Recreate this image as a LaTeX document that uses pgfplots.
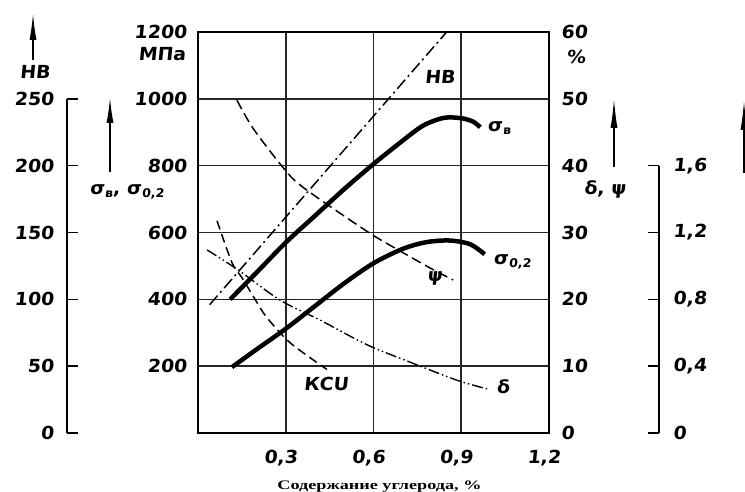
\documentclass[border=0pt]{standalone}
\usepackage{pgfplots}
\pgfplotsset{compat=1.18}
\usepackage{fontspec}
\setmainfont{DejaVu Sans}
\newfontfamily\hand[FakeSlant=0.1,FakeStretch=1.05]{DejaVu Sans Bold}
\newfontfamily\capfont[FakeStretch=1.4]{Liberation Serif Bold}
\usetikzlibrary{arrows.meta}
\newcommand{\sub}[1]{\kern0.5pt\raisebox{-3pt}{\fontsize{12}{13}\selectfont #1}}
\begin{document}
\begin{tikzpicture}[x=1pt,y=1pt]
\useasboundingbox (0,0) rectangle (745,492);
\pgfplotsset{
  base/.style={scale only axis, width=351pt, height=401pt, at={(198pt,59pt)},
    anchor=south west, xmin=0, xmax=1.2,
    font=\hand\fontsize{18}{20}\selectfont},
}
% main axis: MPa
\begin{axis}[base, ymin=0, ymax=1200,
  xtick={0.3,0.6,0.9,1.2}, xticklabels={{0,3},{0,6},{0,9},{1,2}},
  ytick={200,400,600,800,1000,1200}, yticklabels={200,400,600,800,1000,1200},
  ytick pos=left, xtick pos=bottom,
  grid=major, major grid style={line width=1.6pt, black!85},
  major tick length=0pt,
  axis line style={line width=2pt},
  xticklabel style={anchor=center, yshift=-25pt, xshift=-5pt, inner sep=0pt},
  yticklabel style={anchor=east, xshift=-11pt, inner sep=0pt},
  xlabel={\capfont\fontsize{13}{14}\selectfont Содержание углерода, \%},
  xlabel style={at={(axis description cs:0.5,0)}, anchor=center, yshift=-54pt, xshift=6pt},
]
\addplot[line width=4.5pt, smooth, tension=0.5] coordinates {
 (0.11,400) (0.2,480) (0.3,570) (0.4,650) (0.5,730) (0.6,805) (0.7,875)
 (0.77,920) (0.84,943) (0.9,942) (0.94,932) (0.965,915)};
\addplot[line width=4.5pt, smooth, tension=0.5] coordinates {
 (0.116,197) (0.2,250) (0.3,312) (0.4,380) (0.5,448) (0.6,508) (0.7,551)
 (0.78,571) (0.86,576) (0.93,565) (0.98,535)};
\node at (axis cs:0.827,1065) {HB};
\node at (axis cs:1.03,913) {σ\sub{в}};
\node at (axis cs:1.075,512) {σ\sub{0,2}};
\node at (axis cs:0.81,462) {ψ};
\node at (axis cs:1.043,138) {δ};
\node at (axis cs:0.438,147) {КСU};
\end{axis}
% percent axis: delta, psi
\begin{axis}[base, ymin=0, ymax=60, hide x axis, axis line style={draw=none},
  ytick={0,10,20,30,40,50,60}, yticklabels={0,10,20,30,40,50,60},
  ytick pos=right, yticklabel pos=right, major tick length=0pt,
  yticklabel style={anchor=west, xshift=12pt, inner sep=0pt},
]
\addplot[line width=1.5pt, smooth, dash pattern=on 10pt off 5pt] coordinates {
 (0.133,49.8) (0.188,45.6) (0.291,39.7) (0.349,37.1) (0.485,32.9)
 (0.598,29.6) (0.684,27.4) (0.793,24.7) (0.872,22.9)};
\addplot[line width=1.4pt, smooth, dash pattern=on 11pt off 3pt on 1.5pt off 3pt on 1.5pt off 3pt] coordinates {
 (0.031,27.4) (0.137,24.4) (0.28,19.9) (0.417,16.9) (0.578,13.2)
 (0.725,10.6) (0.885,7.9) (0.988,6.6)};
\end{axis}
% HB data (hidden axis)
\begin{axis}[base, ymin=0, ymax=300, hide axis]
\addplot[line width=1.5pt, dash pattern=on 12pt off 4pt on 2pt off 4pt] coordinates {
 (0.04,96) (0.85,300)};
\end{axis}
% KCU data (hidden axis)
\begin{axis}[base, ymin=0, ymax=2.4, hide axis]
\addplot[line width=1.5pt, smooth, dash pattern=on 9pt off 5pt] coordinates {
 (0.065,1.27) (0.116,1.02) (0.15,0.93) (0.202,0.78) (0.236,0.69)
 (0.315,0.54) (0.441,0.38)};
\end{axis}
% HB scale
\begin{axis}[scale only axis, width=1pt, height=334.17pt, at={(67pt,59pt)},
  anchor=south west, xmin=0, xmax=1, ymin=0, ymax=250,
  axis lines*=left, hide x axis, axis line style={-, line width=1.6pt},
  ytick={0,50,100,150,200,250}, yticklabels={0,50,100,150,200,250},
  ytick pos=left, yticklabel pos=left, tick align=inside, major tick length=11pt,
  tick style={line width=1.6pt, black},
  yticklabel style={anchor=east, xshift=-13pt, inner sep=0pt},
  font=\hand\fontsize{18}{20}\selectfont]
\end{axis}
% KCU scale
\begin{axis}[scale only axis, width=1pt, height=267.33pt, at={(658pt,59pt)},
  anchor=south west, xmin=0, xmax=1, ymin=0, ymax=1.6,
  axis lines*=right, hide x axis, axis line style={-, line width=1.6pt},
  ytick={0,0.4,0.8,1.2,1.6}, yticklabels={0,{0,4},{0,8},{1,2},{1,6}},
  ytick pos=right, yticklabel pos=right, tick align=inside, major tick length=11pt,
  tick style={line width=1.6pt, black},
  yticklabel style={anchor=west, xshift=14pt, inner sep=0pt},
  font=\hand\fontsize{18}{20}\selectfont]
\end{axis}
% arrows and axis captions
\begin{scope}[font=\hand\fontsize{18}{20}\selectfont]
\draw[line width=1.6pt, -{Latex[length=27pt,width=7pt]}] (33,432) -- (33,479);
\draw[line width=1.6pt, -{Latex[length=26pt,width=7pt]}] (110,320) -- (110,395);
\draw[line width=1.6pt, -{Latex[length=30pt,width=7pt]}] (614,325) -- (614,394);
\draw[line width=1.6pt, -{Latex[length=30pt,width=7pt]}] (744,319) -- (744,392);
\node at (35,420) {HB};
\node at (162,438) {МПа};
\node at (127,300) {σ\sub{в}, σ\sub{0,2}};
\node at (605,303) {δ, ψ};
\node at (576,435) {\%};
\end{scope}
\end{tikzpicture}
\end{document}
